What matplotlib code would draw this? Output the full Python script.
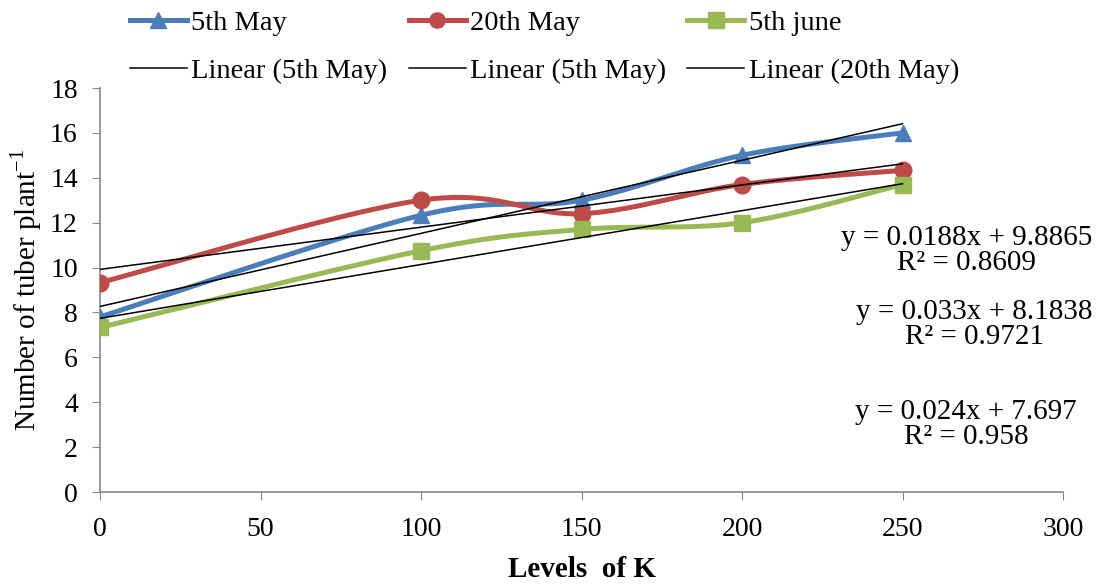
import matplotlib
matplotlib.use("Agg")
import matplotlib.pyplot as plt
import numpy as np

# data
levels = [0, 100, 150, 200, 250]
may5 = [7.8, 12.33, 13.0, 15.0, 16.0]
may20 = [9.33, 13.0, 12.4, 13.7, 14.33]
june5 = [7.33, 10.75, 11.7, 12.0, 13.7]

names = ["5th May", "20th May", "5th june"]
trend_names = ["Linear (5th May)", "Linear (5th May)", "Linear (20th May)"]
equations = ["y = 0.0188x + 9.8865\nR² = 0.8609",
             "y = 0.033x + 8.1838\nR² = 0.9721",
             "y = 0.024x + 7.697\nR² = 0.958"]

colors = ["#4A7EBB", "#BE4B48", "#98B954"]
markers = ["^", "o", "s"]

plt.rcParams['font.family'] = ['Liberation Serif', 'DejaVu Serif']


def smooth(xs, ys, sx, sy, n=40):
    # excel-like smoothed line: catmull-rom bezier in screen-ish units
    P = np.column_stack([np.array(xs) * sx, np.array(ys) * sy])
    out = []
    for i in range(len(P) - 1):
        p0 = P[i - 1] if i > 0 else P[i]
        p1 = P[i]
        p2 = P[i + 1]
        p3 = P[i + 2] if i + 2 < len(P) else P[i + 1]
        c1 = p1 + (p2 - p0) / 6
        c2 = p2 - (p3 - p1) / 6
        t = np.linspace(0, 1, n)[:, None]
        seg = (1 - t) ** 3 * p1 + 3 * (1 - t) ** 2 * t * c1 + 3 * (1 - t) * t ** 2 * c2 + t ** 3 * p2
        out.append(seg)
    out = np.vstack(out)
    return out[:, 0] / sx, out[:, 1] / sy


fig = plt.figure(figsize=(10.99, 5.84), dpi=100)
ax = fig.add_axes([100 / 1099, (584 - 492) / 584, 963 / 1099, 404 / 584])

x = np.array(levels, dtype=float)
series = [may5, may20, june5]
handles = []
fits = []
for s, c, m, nm in zip(series, colors, markers, names):
    sxs, sys_ = smooth(x, s, 3.21, 22.44)
    ax.plot(sxs, sys_, color=c, lw=3.6, solid_capstyle='round', zorder=3)
    ax.plot(x, s, ls='none', marker=m, color=c, ms=12, zorder=4)
    h, = ax.plot([], [], color=c, lw=3.6, marker=m, ms=11, label=nm)
    handles.append(h)
    k, b = np.polyfit(x, s, 1)
    fits.append((k, b))

# trendlines
for k, b in fits:
    ax.plot([0, 250], [b, k * 250 + b], color='black', lw=1.1, zorder=5)

lin_handles = [ax.plot([], [], color='black', lw=1.1, label=t)[0] for t in trend_names]

ax.set_xlim(0, 300)
ax.set_ylim(0, 18)
ax.set_xticks(np.arange(0, 301, 50))
ax.set_yticks(np.arange(0, 19, 2))
for sp in ['top', 'right']:
    ax.spines[sp].set_visible(False)
for sp in ['left', 'bottom']:
    ax.spines[sp].set_color('#888888')
    ax.spines[sp].set_linewidth(1.2)
ax.tick_params(direction='out', length=6, color='#888888', labelsize=20)
ax.tick_params(axis='x', pad=12)
ax.tick_params(axis='y', pad=10)

ax.set_xlabel("Levels  of K", fontsize=21, fontweight='bold', labelpad=10)
ax.set_ylabel("Number of tuber plant$^{\\mathregular{-1}}$", fontsize=21, labelpad=4)

# equation labels
eq_pos = [(270, 10.75), (272.5, 7.45), (269.8, 3.0)]
for eq, (ex, ey) in zip(equations, eq_pos):
    ax.text(ex, ey, eq, ha='center', va='center', fontsize=21, linespacing=0.97)

order = [handles[0], lin_handles[0], handles[1], lin_handles[1], handles[2], lin_handles[2]]
fig.legend(order, [h.get_label() for h in order], ncol=3, loc='upper left',
           bbox_to_anchor=(130 / 1099, 1 - 10 / 584), frameon=False, fontsize=20.5,
           handlelength=2.0, handletextpad=0.15, columnspacing=0.75,
           labelspacing=0.78, borderpad=0, borderaxespad=0)

fig.savefig("out.png", dpi=100)
